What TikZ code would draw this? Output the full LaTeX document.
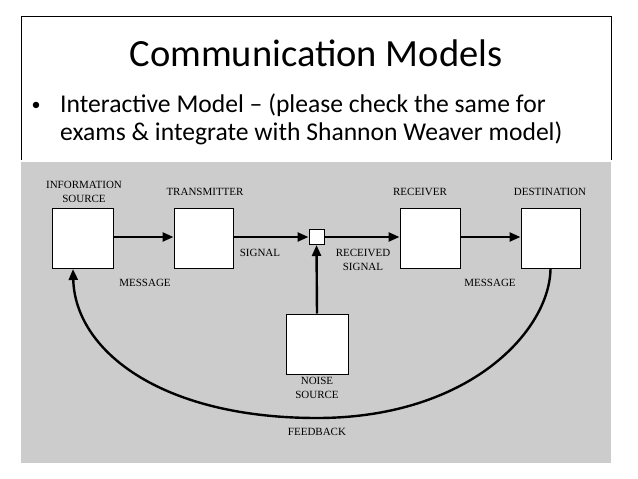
\documentclass[tikz,border=0pt]{standalone}
\usepackage{fontspec}
\setmainfont{Carlito}
\newfontfamily\dfont{Liberation Serif}
\usetikzlibrary{arrows.meta}
\begin{document}
\begin{tikzpicture}[x=1pt,y=-1pt,
  box/.style={draw,fill=white,line width=1pt,inner sep=0},
  lab/.style={font=\dfont\fontsize{11}{14}\selectfont,align=center,inner sep=0},
  arr/.style={line width=2.4pt,-{Triangle[length=11pt,width=9pt]}}]
\useasboundingbox (0,0) rectangle (638,479);
\fill[white] (0,0) rectangle (638,479);
\draw[line width=1pt] (21,160) -- (21,16) -- (611,16) -- (611,160);
\fill[black!20] (21,162) rectangle (611,463);
\node[inner sep=0,font=\fontsize{38.5}{44}\selectfont] (title) at (316,53) {Communication Models};
\node[inner sep=0,font=\fontsize{18}{20}\selectfont] (bul) at (36,106) {•};
\node[inner sep=0,anchor=west,align=left,font=\fontsize{25.6}{28}\selectfont] (txt) at (60,119.5) {Interactive Model -- (please check the same for\\ exams \& integrate with Shannon Weaver model)};
\node[box,minimum width=61,minimum height=60] (is) at (82.5,238) {};
\node[box,minimum width=59,minimum height=60] (tr) at (203.5,238) {};
\node[box,minimum width=15,minimum height=15] (mx) at (316.5,237) {};
\node[box,minimum width=60,minimum height=60] (rc) at (430,238) {};
\node[box,minimum width=59,minimum height=60] (ds) at (550.5,238) {};
\node[box,minimum width=62,minimum height=60] (ns) at (317,344) {};
\node[lab] (l1) at (84,192) {INFORMATION\\SOURCE};
\node[lab] (l2) at (205,192) {TRANSMITTER};
\node[lab] (l3) at (420,192) {RECEIVER};
\node[lab] (l4) at (550,192) {DESTINATION};
\node[lab] (l5) at (145,283) {MESSAGE};
\node[lab] (l6) at (260,253) {SIGNAL};
\node[lab] (l7) at (363,260) {RECEIVED\\SIGNAL};
\node[lab] (l8) at (490,283) {MESSAGE};
\node[lab] (l9) at (317,388) {NOISE\\SOURCE};
\node[lab] (l10) at (317,432) {FEEDBACK};
\draw[arr] (is.east |- 0,237) -- (tr.west |- 0,237);
\draw[arr] (tr.east |- 0,237) -- (mx.west);
\draw[arr] (mx.east) -- (rc.west |- 0,237);
\draw[arr] (rc.east |- 0,237) -- (ds.west |- 0,237);
\draw[arr] (ns.north) -- (mx.south);
\draw[arr] (ds.south) .. controls (550,330) and (470,418) .. (317,418) .. controls (160,418) and (75,350) .. (73,269);
\end{tikzpicture}
\end{document}
